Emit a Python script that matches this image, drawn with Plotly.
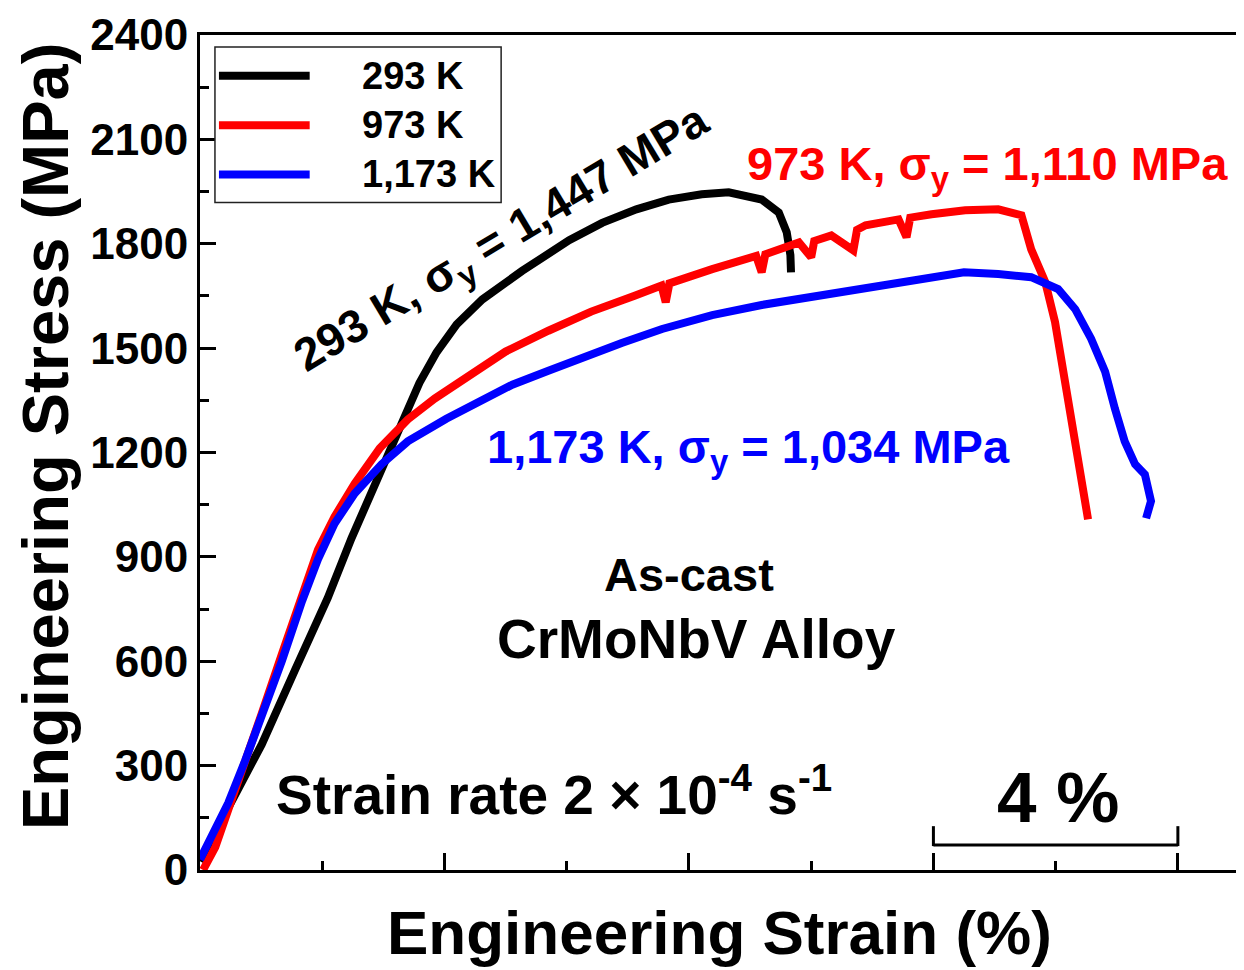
import plotly.graph_objects as go

# ---------------- data ----------------
strain_293 = [0.00, 0.46, 1.01, 1.55, 2.09, 2.48, 2.81, 3.14, 3.40, 3.59, 3.87, 4.20, 4.62,
              5.27, 6.04, 6.58, 7.14, 7.67, 8.21, 8.65, 9.19, 9.47, 9.60, 9.66, 9.67]
stress_293 = [25, 180, 361, 573, 782, 954, 1088, 1211, 1317, 1400, 1488, 1568, 1640,
              1722, 1810, 1860, 1899, 1927, 1942, 1948, 1927, 1890, 1833, 1767, 1718]

strain_973 = [0.05, 0.25, 0.46, 0.74, 1.01, 1.34, 1.67, 1.93, 2.20, 2.53, 2.94, 3.40, 3.84,
              4.30, 5.00, 5.70, 6.40, 7.10, 7.55, 7.62, 7.68, 8.38, 9.10, 9.19, 9.25,
              9.80, 10.00, 10.05, 10.33, 10.69, 10.75, 10.89, 11.43, 11.56, 11.62, 11.97,
              12.52, 13.06, 13.44, 13.60, 13.83, 13.99, 14.16, 14.32, 14.48, 14.53]
stress_973 = [0, 66, 172, 306, 450, 621, 793, 920, 1015, 1110, 1212, 1295, 1355,
              1410, 1490, 1550, 1605, 1650, 1680, 1632, 1686, 1727, 1765, 1718, 1770,
              1804, 1761, 1808, 1824, 1781, 1840, 1853, 1870, 1819, 1875, 1885,
              1896, 1899, 1882, 1784, 1690, 1575, 1403, 1211, 1068, 1008]

strain_1173 = [0.00, 0.25, 0.46, 0.74, 1.01, 1.34, 1.67, 1.93, 2.20, 2.53, 2.97, 3.40, 4.03,
               4.60, 5.11, 5.70, 6.20, 6.90, 7.56, 8.38, 9.19, 9.80, 10.89, 11.97, 12.50,
               13.06, 13.60, 14.04, 14.32, 14.58, 14.81, 14.97, 15.13, 15.30, 15.46, 15.56, 15.48]
stress_1173 = [30, 123, 192, 315, 438, 601, 773, 893, 995, 1082, 1166, 1232, 1297,
               1350, 1395, 1435, 1469, 1515, 1555, 1595, 1624, 1641, 1670, 1698, 1718,
               1713, 1704, 1670, 1612, 1527, 1432, 1326, 1232, 1166, 1137, 1060, 1011]

series_names = ["293 K", "973 K", "1,173 K"]
series_colors = ["#000000", "#FF0000", "#0000FF"]
series_x = [strain_293, strain_973, strain_1173]
series_y = [stress_293, stress_973, stress_1173]

y_ticks = [0, 300, 600, 900, 1200, 1500, 1800, 2100, 2400]
scale_bar = [12, 16]  # strain span of the "4 %" bar

FONT = "Liberation Sans"

# ---------------- layout helpers ----------------
# the page body has an 8 px margin
OFF = 8
W, H = 1244 - OFF, 970 - OFF
L, T = 200 - OFF, 32 - OFF
PW, PH = 1042, 838
R = W - L - PW
B = H - T - PH
X_MAX = 17.0 * PW / 1042  # 61.3 px per % strain as in the reference


def px(x):  # page pixel x -> paper
    return (x - OFF - L) / PW


def py(y):  # page pixel y -> paper
    return (H - B - (y - OFF)) / PH


fig = go.Figure()
for name, xs, ys, col in zip(series_names, series_x, series_y, series_colors):
    fig.add_trace(go.Scatter(x=xs, y=ys, mode="lines", name=name, showlegend=False,
                             line=dict(color=col, width=8)))

axis_common = dict(showline=True, linewidth=3, linecolor="black", mirror=True,
                   ticks="inside", tickwidth=3, tickcolor="black", showgrid=False,
                   zeroline=False)

fig.update_layout(
    width=W, height=H,
    margin=dict(l=L, r=R, t=T, b=B),
    plot_bgcolor="white", paper_bgcolor="white",
    xaxis=dict(range=[0, X_MAX], tick0=0, dtick=4, ticklen=17, showticklabels=False,
               minor=dict(ticks="inside", dtick=2, tick0=0, ticklen=9, tickwidth=3,
                          tickcolor="black", showgrid=False),
               **axis_common),
    yaxis=dict(range=[0, 2400], tickvals=y_ticks, ticktext=[str(v) for v in y_ticks],
               ticklen=16, ticklabeloverflow="allow",
               tickfont=dict(family=FONT, size=44, color="black", weight="bold"),
               minor=dict(ticks="inside", dtick=150, tick0=0, ticklen=9, tickwidth=3,
                          tickcolor="black", showgrid=False),
               **axis_common),
)

annotations = []
shapes = []


def add_text(text, x, y, size, color="black", angle=0, xanchor="center", yanchor="middle"):
    annotations.append(dict(text=text, x=x, y=y, xref="paper", yref="paper",
                            showarrow=False, textangle=angle, xanchor=xanchor,
                            yanchor=yanchor,
                            font=dict(family=FONT, size=size, color=color, weight="bold")))


# axis titles
add_text("Engineering Stress (MPa)", px(45), py(435), 65, angle=-90)
add_text("Engineering Strain (%)", px(721), py(933), 62)

# legend (drawn)
shapes.append(dict(type="rect", xref="paper", yref="paper", x0=px(215), x1=px(502),
                   y0=py(200), y1=py(44), line=dict(color="#222222", width=1.5),
                   fillcolor="white", layer="above"))
for i, (name, col) in enumerate(zip(series_names, series_colors)):
    yc = 73 + 49.5 * i
    shapes.append(dict(type="line", xref="paper", yref="paper", x0=px(219), x1=px(310),
                       y0=py(yc), y1=py(yc), line=dict(color=col, width=8), layer="above"))
    add_text(name, px(360), py(yc), 38, xanchor="left")

# curve labels
add_text("293 K, σ<sub>y</sub> = 1,447 MPa", px(503), py(238), 46, angle=-31)
add_text("973 K, σ<sub>y</sub> = 1,110 MPa", px(990), py(164), 47, color="#FF0000")
add_text("1,173 K, σ<sub>y</sub> = 1,034 MPa", px(750), py(448), 47, color="#0000FF")
add_text("As-cast", px(690), py(573), 47)
add_text("CrMoNbV Alloy", px(698), py(638), 55)
add_text("Strain rate 2 × 10<sup>-4</sup> s<sup>-1</sup>", px(555), py(791), 55)
add_text("4 %", px(1060), py(797), 71)

# scale bar (4 % strain)
shapes.append(dict(type="line", xref="x", yref="paper", x0=scale_bar[0], x1=scale_bar[1],
                   y0=py(845), y1=py(845), line=dict(color="black", width=3)))
for xv in scale_bar:
    shapes.append(dict(type="line", xref="x", yref="paper", x0=xv, x1=xv,
                       y0=py(826), y1=py(846), line=dict(color="black", width=3)))

fig.update_layout(annotations=annotations, shapes=shapes)
fig.write_html("out.html")
